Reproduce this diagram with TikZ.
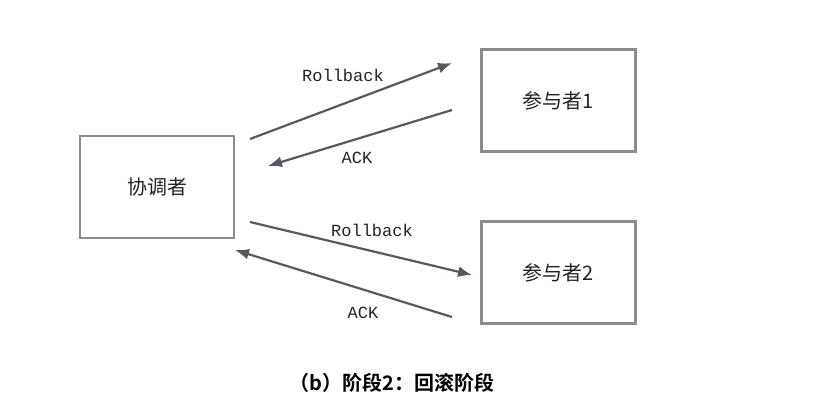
\documentclass[tikz,border=0pt]{standalone}
\usepackage{fontspec}
\usetikzlibrary{arrows.meta}
\setmainfont{Liberation Serif}
\newfontfamily\cjk[BoldFont={Noto Sans CJK SC Bold}]{Noto Sans CJK SC}
\newfontfamily\monofont{Liberation Mono}
\definecolor{boxGray}{RGB}{140, 140, 140}
\definecolor{arrowGray}{RGB}{85, 90, 96}
\definecolor{textDark}{RGB}{35, 35, 35}

\tikzset{
  rolebox/.style={draw=boxGray, line width=1.1pt, minimum width=77pt, minimum height=51pt, text=textDark, font=\cjk\fontsize{10}{12}\selectfont},
  msg/.style={-{Latex[length=7pt, width=5.5pt]}, line width=1.1pt, arrowGray},
  msglabel/.style={text=textDark, font=\monofont\fontsize{8.5}{10}\selectfont, inner sep=0pt}
}

\begin{document}
\begin{tikzpicture}[x=0.5pt, y=-0.5pt]
  \useasboundingbox (0,0) rectangle (829,400);
  % boxes
  \node[rolebox] (coord) at (157,187) {协调者};
  \node[rolebox] (part1) at (558.5,100.5) {参与者1};
  \node[rolebox] (part2) at (558.5,272.5) {参与者2};
  % message end points
  \coordinate (rb1s) at (250,139);
  \coordinate (rb1e) at (452,63);
  \coordinate (ack1s) at (452,110);
  \coordinate (ack1e) at (268,166);
  \coordinate (rb2s) at (250,222);
  \coordinate (rb2e) at (472,275);
  \coordinate (ack2s) at (452,317);
  \coordinate (ack2e) at (235,250);
  % messages
  \draw[msg] (rb1s) -- (rb1e);
  \draw[msg] (ack1s) -- (ack1e);
  \draw[msg] (rb2s) -- (rb2e);
  \draw[msg] (ack2s) -- (ack2e);
  \node[msglabel] (rb1lbl) at (343,75) {Rollback};
  \node[msglabel] (ack1lbl) at (357,158) {ACK};
  \node[msglabel] (rb2lbl) at (372,230) {Rollback};
  \node[msglabel] (ack2lbl) at (363,313) {ACK};
  % caption
  \node[text=black, font=\cjk\bfseries\fontsize{10}{12}\selectfont] (caption) at (392,383) {（b）阶段2：回滚阶段};
\end{tikzpicture}
\end{document}
